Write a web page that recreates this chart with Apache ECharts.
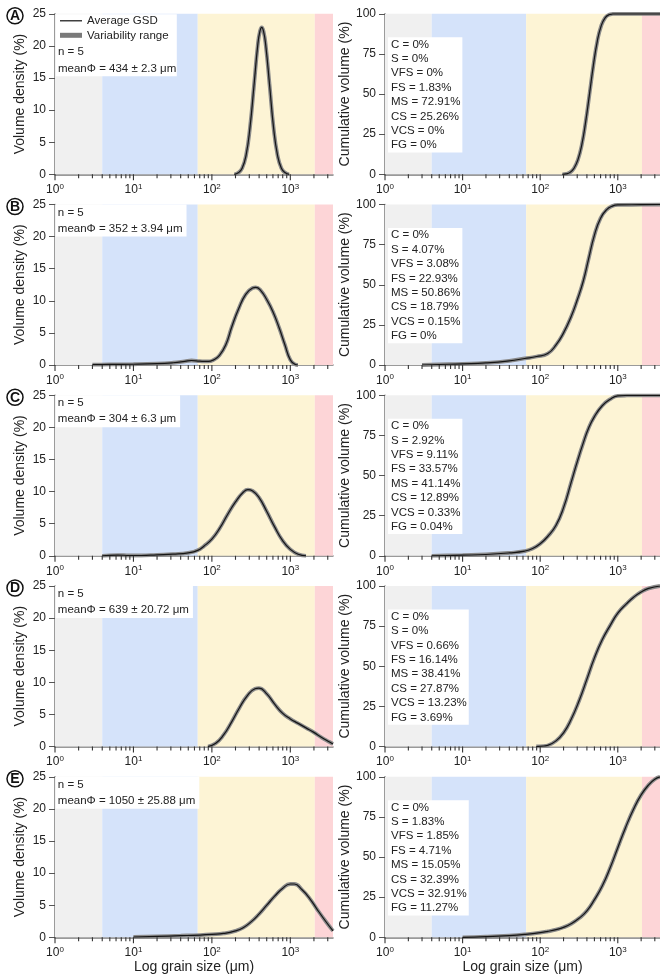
<!DOCTYPE html>
<html>
<head>
<meta charset="utf-8">
<script src="https://cdn.jsdelivr.net/npm/echarts@6/dist/echarts.min.js"></script>
<style>
  html, body { margin: 0; background: #fff; }
  #chart { width: 660px; height: 977px; }
</style>
</head>
<body>
<div id="chart"></div>
<script>
// grain size classes (um) used for the background bands
const bandEdges = [1, 4, 66, 2050, 3500]
const bandColors = ['#f0f0f0', '#d5e3fa', '#fdf4d5', '#fdd5d7']

const majorTicks = [1, 10, 100, 1000]
const minorTicks = [2, 3, 4, 5, 6, 7, 8, 9, 20, 30, 40, 50, 60, 70, 80, 90,
  200, 300, 400, 500, 600, 700, 800, 900, 2000, 3000]

const panelLetters = ['A', 'B', 'C', 'D', 'E']
const meanText = ['434 ± 2.3 μm', '352 ± 3.94 μm', '304 ± 6.3 μm', '639 ± 20.72 μm', '1050 ± 25.88 μm']
const classNames = ['C', 'S', 'VFS', 'FS', 'MS', 'CS', 'VCS', 'FG']
const classPctA = ['0', '0', '0', '1.83', '72.91', '25.26', '0', '0']
const classPctB = ['0', '4.07', '3.08', '22.93', '50.86', '18.79', '0.15', '0']
const classPctC = ['0', '2.92', '9.11', '33.57', '41.14', '12.89', '0.33', '0.04']
const classPctD = ['0', '0', '0.66', '16.14', '38.41', '27.87', '13.23', '3.69']
const classPctE = ['0', '1.83', '1.85', '4.71', '15.05', '32.39', '32.91', '11.27']

// volume density (%)
const sizeA = [193, 217, 243, 273, 306, 344, 385, 410, 432, 455, 485, 545, 611, 686, 769, 863, 968]
const densA = [0, 0.23, 0.94, 3.0, 7.3, 13.8, 20.2, 22.3, 22.9, 22.3, 20.2, 13.8, 7.3, 3.0, 0.94, 0.23, 0]
const sizeB = [3, 5, 10, 20, 32, 45, 55, 70, 90, 105, 125, 150, 180, 220, 270, 330, 363, 420, 500, 600, 720, 850, 1000, 1150, 1250]
const densB = [0.05, 0.1, 0.12, 0.2, 0.35, 0.55, 0.7, 0.6, 0.55, 0.8, 1.5, 3.1, 6.0, 8.8, 11.0, 12.0, 12.1, 11.6, 10.2, 8.3, 5.8, 3.2, 0.8, 0.1, 0]
const sizeC = [4, 6.3, 8.9, 12.6, 20, 32, 50, 66, 79, 100, 126, 158, 200, 251, 288, 331, 398, 501, 631, 794, 1000, 1259, 1585]
const densC = [0, 0.12, 0.05, 0.05, 0.15, 0.25, 0.45, 0.85, 1.5, 2.6, 4.3, 6.4, 8.4, 9.9, 10.3, 10.1, 9.1, 6.9, 4.5, 2.4, 1.0, 0.25, 0]
const sizeD = [89, 112, 141, 178, 224, 282, 355, 398, 501, 631, 794, 1000, 1259, 1585, 1995, 2512, 3162, 3500]
const densD = [0, 0.5, 1.8, 3.8, 6.0, 7.9, 9.0, 9.1, 8.2, 6.6, 5.2, 4.3, 3.6, 2.9, 2.2, 1.4, 0.7, 0.4]
const sizeE = [10, 20, 40, 71, 100, 141, 200, 251, 316, 398, 501, 631, 794, 1000, 1122, 1413, 1778, 2239, 2818, 3500]
const densE = [0.05, 0.15, 0.25, 0.35, 0.45, 0.6, 1.0, 1.5, 2.4, 3.6, 5.0, 6.4, 7.6, 8.3, 8.3, 7.4, 6.0, 4.2, 2.5, 1.0]

// cumulative volume (%)
const cumSizeA = [193, 217, 243, 273, 306, 344, 385, 432, 485, 545, 611, 686, 769, 863, 968, 3500]
const cumA = [0, 0.3, 1.2, 3.8, 9, 18.5, 32.5, 50, 68, 83, 92.5, 97.5, 99.4, 99.9, 100, 100]
const cumSizeB = [3, 5, 10, 20, 40, 63, 90, 125, 160, 200, 250, 300, 360, 420, 500, 600, 720, 850, 1000, 2000, 3500]
const cumB = [0, 0.3, 0.7, 1.3, 2.6, 4.07, 5.3, 7.15, 12.5, 20, 30.08, 40.5, 52.5, 66, 80.94, 91.5, 96.8, 99.0, 99.73, 99.88, 100]
const cumSizeC = [4, 6.3, 10, 20, 40, 63, 80, 100, 125, 160, 200, 250, 300, 360, 420, 500, 630, 800, 1000, 1300, 2000, 3500]
const cumC = [0, 0.2, 0.4, 0.8, 1.8, 2.92, 4.5, 7.5, 12.03, 19, 30, 45.6, 58.5, 70.5, 79.5, 86.74, 93.5, 97.6, 99.63, 99.9, 99.96, 100]
const cumSizeD = [89, 112, 125, 160, 200, 250, 320, 400, 500, 630, 800, 1000, 1300, 1600, 2000, 2500, 3500]
const cumD = [0, 0.3, 0.66, 3.5, 8.5, 16.8, 29, 42, 55.21, 66.5, 75.5, 83.08, 89, 93, 96.31, 98.5, 100]
const cumSizeE = [10, 20, 40, 63, 100, 125, 160, 200, 250, 320, 400, 500, 630, 800, 1000, 1250, 1600, 2000, 2500, 3000, 3500]
const cumE = [0, 0.4, 1.1, 1.83, 2.9, 3.68, 4.8, 6.2, 8.39, 12, 16.5, 23.44, 32, 43.5, 55.83, 68, 80, 88.74, 95, 98.5, 100]

const densSizes = [sizeA, sizeB, sizeC, sizeD, sizeE]
const densVals = [densA, densB, densC, densD, densE]
const cumSizes = [cumSizeA, cumSizeB, cumSizeC, cumSizeD, cumSizeE]
const cumVals = [cumA, cumB, cumC, cumD, cumE]
const classPcts = [classPctA, classPctB, classPctC, classPctD, classPctE]

const chart = echarts.init(document.getElementById('chart'))

const panelTops = [13.8, 204.5, 395.3, 586, 776.8]
const panelH = 160.5
const leftX = [55, 385]
const panelW = 278
const textColor = '#222'
const axisColor = '#7a7a7a'
const font = '11.5px Liberation Sans, Arial'

const grids = []
const xAxes = []
const yAxes = []
const series = []
const graphics = []

function pairs (xs, ys) {
  return xs.map((x, i) => [x, ys[i]])
}

// log-axis tick marks hanging below y = 0, placed through the axis scale
function tickSeries (g, values, len) {
  return {
    type: 'custom',
    xAxisIndex: g,
    yAxisIndex: g,
    data: values.map(v => [v, 0]),
    encode: { x: 0, y: 1 },
    clip: false,
    silent: true,
    z: 20,
    renderItem: (params, api) => {
      const p = api.coord([api.value(0), 0])
      return {
        type: 'line',
        z2: 100,
        shape: { x1: p[0], y1: p[1], x2: p[0], y2: p[1] + len },
        style: { stroke: '#333', lineWidth: 1.1 }
      }
    }
  }
}

panelTops.forEach((top, row) => {
  for (let col = 0; col < 2; col++) {
    const g = row * 2 + col
    const isLast = row === 4
    grids.push({ left: leftX[col], top: top, width: panelW, height: panelH })
    xAxes.push({
      type: 'log',
      logBase: 10,
      gridIndex: g,
      min: 1,
      max: 3500,
      name: isLast ? 'Log grain size (μm)' : '',
      nameLocation: 'middle',
      nameGap: 23,
      nameTextStyle: { fontSize: 14, color: textColor },
      axisLine: { show: true, lineStyle: { color: axisColor, width: 1.5 } },
      axisTick: { show: false },
      axisLabel: {
        customValues: majorTicks,
        fontSize: 12,
        color: textColor,
        margin: 8,
        formatter: v => '10{s|' + Math.round(Math.log10(v)) + '}',
        rich: { s: { fontSize: 8, color: textColor, padding: [0, 0, 7, 0] } }
      },
      splitLine: { show: false }
    })
    yAxes.push({
      type: 'value',
      gridIndex: g,
      min: 0,
      max: col === 0 ? 25 : 100,
      interval: col === 0 ? 5 : 25,
      name: col === 0 ? 'Volume density (%)' : 'Cumulative volume (%)',
      nameLocation: 'middle',
      nameGap: 28,
      nameTextStyle: { fontSize: 14, color: textColor },
      axisLine: { show: true, lineStyle: { color: axisColor, width: 1.5 } },
      axisTick: { show: true, length: 6, lineStyle: { color: '#555' } },
      axisLabel: { fontSize: 12, color: textColor, margin: 9 },
      splitLine: { show: false }
    })

    const bands = []
    for (let b = 0; b < bandColors.length; b++) {
      bands.push([{ xAxis: bandEdges[b], itemStyle: { color: bandColors[b] } }, { xAxis: bandEdges[b + 1] }])
    }
    series.push({
      type: 'line',
      xAxisIndex: g,
      yAxisIndex: g,
      data: [],
      z: 0,
      silent: true,
      markArea: { silent: true, data: bands }
    })

    const data = col === 0 ? pairs(densSizes[row], densVals[row]) : pairs(cumSizes[row], cumVals[row])
    series.push({
      name: 'Variability range',
      type: 'line',
      xAxisIndex: g,
      yAxisIndex: g,
      data: data,
      smooth: 0.5,
      showSymbol: false,
      z: 2,
      lineStyle: { color: '#8a8a8a', width: 3.8 }
    })
    series.push({
      name: 'Average GSD',
      type: 'line',
      xAxisIndex: g,
      yAxisIndex: g,
      data: data,
      smooth: 0.5,
      showSymbol: false,
      z: 3,
      lineStyle: { color: '#151515', width: 1.2 }
    })
    series.push(tickSeries(g, majorTicks, 6))
    series.push(tickSeries(g, minorTicks, 4))
  }

  // panel letter
  graphics.push({
    type: 'circle',
    shape: { cx: 15, cy: top + 2, r: 8 },
    style: { fill: '#fff', stroke: '#111', lineWidth: 1.5 },
    z: 10
  })
  graphics.push({
    type: 'text',
    x: 15,
    y: top + 2.5,
    style: { text: panelLetters[row], font: 'bold 14px Liberation Sans, Arial', fill: '#111', align: 'center', verticalAlign: 'middle' },
    z: 11
  })

  // sample info on the density panel
  if (row === 0) {
    graphics.push({ type: 'rect', shape: { x: 55.8, y: top + 0.5, width: 121, height: 62 }, style: { fill: '#fff' }, z: 10 })
    graphics.push({ type: 'line', shape: { x1: 60, y1: top + 7, x2: 82, y2: top + 7 }, style: { stroke: '#111', lineWidth: 1.2 }, z: 11 })
    graphics.push({ type: 'rect', shape: { x: 60, y: top + 19, width: 22, height: 5 }, style: { fill: '#7a7a7a' }, z: 11 })
    graphics.push({
      type: 'text', x: 87, y: top + 7,
      style: { text: 'Average GSD', font: font, fill: textColor, verticalAlign: 'middle' }, z: 11
    })
    graphics.push({
      type: 'text', x: 87, y: top + 22,
      style: { text: 'Variability range', font: font, fill: textColor, verticalAlign: 'middle' }, z: 11
    })
    graphics.push({
      type: 'text', x: 58, y: top + 30,
      style: { text: 'n = 5\nmeanΦ = ' + meanText[row], font: font, fill: textColor, lineHeight: 17 }, z: 11
    })
  } else {
    graphics.push({
      type: 'text', x: 55.8, y: top,
      style: {
        text: 'n = 5\nmeanΦ = ' + meanText[row],
        font: font,
        fill: textColor,
        lineHeight: 16,
        backgroundColor: '#fff',
        padding: [0, 4, 0, 2]
      },
      z: 10
    })
  }

  // class percentages on the cumulative panel
  graphics.push({
    type: 'text', x: 388, y: top + 23.5,
    style: {
      text: classNames.map((c, i) => c + ' = ' + classPcts[row][i] + '%').join('\n'),
      font: font,
      fill: textColor,
      lineHeight: 14.4,
      backgroundColor: '#fff',
      padding: [0, 2, 0, 3]
    },
    z: 10
  })
})

chart.setOption({
  animation: false,
  backgroundColor: '#fff',
  textStyle: { fontFamily: 'Liberation Sans, Arial, sans-serif' },
  grid: grids,
  xAxis: xAxes,
  yAxis: yAxes,
  series: series,
  graphic: graphics
})
</script>
</body>
</html>
